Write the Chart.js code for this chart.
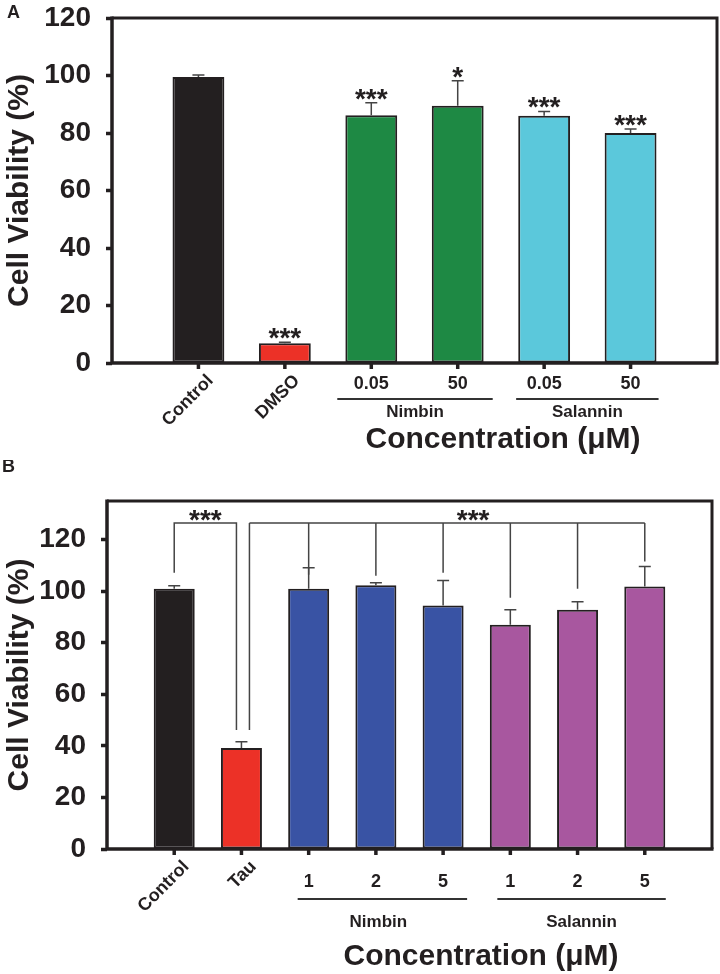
<!DOCTYPE html>
<html>
<head>
<meta charset="utf-8">
<title>Cell viability</title>
<script src="https://cdn.jsdelivr.net/npm/chart.js@4.4.1/dist/chart.umd.min.js"></script>
<style>
  body { margin: 0; background: #fff; }
  #wrap { position: relative; width: 720px; height: 974px; }
  #chartA { position: absolute; left: 0; top: 0; }
  #chartB { position: absolute; left: 0; top: 460px; }
</style>
</head>
<body>
<div id="wrap">
  <canvas id="chartA" width="720" height="460"></canvas>
  <canvas id="chartB" width="720" height="514"></canvas>
</div>
<script>
// Panel A data
const labelsA = ["Control", "DMSO", "0.05", "50", "0.05", "50"];
const valuesA = [99.5, 6.9, 86.2, 89.5, 86.0, 80.0];
const errorsA = [0.7, 0.3, 4.3, 8.7, 1.5, 1.4];
const starsA = ["", "***", "***", "*", "***", "***"];
const groupsA = [
  { name: "Nimbin", from: 2, to: 3 },
  { name: "Salannin", from: 4, to: 5 },
];

// Panel B data
const labelsB = ["Control", "Tau", "1", "2", "5", "1", "2", "5"];
const valuesB = [101.0, 39.2, 101.0, 102.3, 94.5, 87.0, 92.8, 101.8];
const errorsB = [1.1, 2.4, 8.1, 1.0, 9.7, 5.8, 3.1, 7.8];
const groupsB = [
  { name: "Nimbin", from: 2, to: 4 },
  { name: "Salannin", from: 5, to: 7 },
];
// significance brackets (y values in %)
const bracketLevel = 126.5;
const bracketCtrlTau = [107.2, 46.2];
const bracketTauAll = [46.2, 106.4, 106.0, 107.2, 97.5, 101.0, 111.5];

const INK = "#231f20";
const FONT = "'Liberation Sans', Arial, Helvetica, sans-serif";
const colorsA = ["#231f20", "#ec3127", "#1e8944", "#1e8944", "#5bc8db", "#5bc8db"];
const colorsB = ["#231f20", "#ec3127", "#3953a4", "#3953a4", "#3953a4", "#a8579f", "#a8579f", "#a8579f"];

// pad the category axis with an empty slot at each end
function padded(arr, fill) {
  return [fill, ...arr, fill];
}

// Draws the frame, error bars, x labels, groups and annotations
function decorPlugin(opts) {
  return {
    id: "decor",
    afterDatasetsDraw(chart) {
      const { ctx, chartArea: a, scales } = chart;
      const x = scales.x;
      const y = scales.y;
      const px = (i) => x.getPixelForValue(i + 1);
      ctx.save();

      // frame
      ctx.strokeStyle = INK;
      ctx.lineWidth = 3;
      ctx.beginPath();
      ctx.moveTo(a.left, a.top);
      ctx.lineTo(a.right, a.top);
      ctx.lineTo(a.right, a.bottom);
      ctx.stroke();
      ctx.lineWidth = 3.5;
      ctx.beginPath();
      ctx.moveTo(a.left, a.top - 1.5);
      ctx.lineTo(a.left, a.bottom);
      ctx.lineTo(a.right + 1.5, a.bottom);
      ctx.stroke();

      // x tick marks
      ctx.lineWidth = 3.5;
      opts.labels.forEach((_, i) => {
        ctx.beginPath();
        ctx.moveTo(px(i), a.bottom);
        ctx.lineTo(px(i), a.bottom + 6);
        ctx.stroke();
      });

      // error bars
      ctx.strokeStyle = "#444";
      ctx.lineWidth = 1.5;
      opts.values.forEach((v, i) => {
        const top = y.getPixelForValue(v);
        const cap = y.getPixelForValue(v + opts.errors[i]);
        ctx.beginPath();
        ctx.moveTo(px(i), top);
        ctx.lineTo(px(i), cap);
        ctx.moveTo(px(i) - 6, cap);
        ctx.lineTo(px(i) + 6, cap);
        ctx.stroke();
      });

      // stars above bars
      ctx.fillStyle = INK;
      if (opts.stars) {
        ctx.font = "bold 28px " + FONT;
        ctx.textAlign = "center";
        ctx.textBaseline = "alphabetic";
        opts.stars.forEach((s, i) => {
          if (!s) return;
          const cap = y.getPixelForValue(opts.values[i] + opts.errors[i]);
          ctx.fillText(s, px(i), cap + 5);
        });
      }

      // x labels: rotated names for the first two, numbers for grouped ones
      opts.labels.forEach((lab, i) => {
        if (i < 2) {
          ctx.save();
          ctx.translate(px(i) + 12, a.bottom + 15);
          ctx.rotate(-Math.PI / 4);
          ctx.font = "bold 18px " + FONT;
          ctx.textAlign = "right";
          ctx.textBaseline = "middle";
          ctx.fillText(lab, 0, 0);
          ctx.restore();
        } else {
          ctx.font = "bold 18px " + FONT;
          ctx.textAlign = "center";
          ctx.textBaseline = "middle";
          ctx.fillText(lab, px(i), a.bottom + opts.numDy);
        }
      });

      // group underlines and names
      opts.groups.forEach((g, k) => {
        const x0 = px(g.from) - opts.groupPad[k][0];
        const x1 = px(g.to) + opts.groupPad[k][1];
        ctx.strokeStyle = "#333";
        ctx.lineWidth = 2;
        ctx.beginPath();
        ctx.moveTo(x0, a.bottom + opts.lineDy);
        ctx.lineTo(x1, a.bottom + opts.lineDy);
        ctx.stroke();
        ctx.font = "bold 17px " + FONT;
        ctx.textAlign = "center";
        ctx.textBaseline = "middle";
        ctx.fillText(g.name, (x0 + x1) / 2 + opts.groupNameDx[k], a.bottom + opts.nameDy);
      });

      // axis title
      ctx.font = "bold 30px " + FONT;
      ctx.textAlign = "center";
      ctx.textBaseline = "middle";
      ctx.fillText("Concentration (\u03bcM)", opts.titleX, a.bottom + opts.titleDy);

      // panel letter
      ctx.font = "bold 18px " + FONT;
      ctx.textAlign = "left";
      ctx.textBaseline = "top";
      ctx.fillText(opts.letter, opts.letterPos[0], opts.letterPos[1]);

      if (opts.brackets) opts.brackets(ctx, px, y);
      ctx.restore();
    },
  };
}

function yScale(max, width) {
  return {
    min: 0,
    max: max,
    ticks: {
      stepSize: 20,
      includeBounds: false,
      color: INK,
      padding: 15,
      font: { family: FONT, size: 28, weight: "bold" },
    },
    grid: {
      display: true,
      drawOnChartArea: false,
      drawTicks: true,
      tickLength: 6,
      tickWidth: 3.5,
      tickColor: INK,
    },
    border: { display: false },
    title: {
      display: true,
      text: "Cell Viability (%)",
      color: INK,
      padding: { top: 2, bottom: 0 },
      font: { family: FONT, size: 30, weight: "bold" },
    },
    afterFit(scale) {
      scale.width = width;
      scale.paddingTop = 0;
      scale.paddingBottom = 0;
    },
  };
}

function barChart(id, labels, values, colors, barPct, yMax, yWidth, padding, plugin) {
  return new Chart(document.getElementById(id), {
    type: "bar",
    data: {
      labels: padded(labels, ""),
      datasets: [
        {
          data: padded(values, null),
          backgroundColor: padded(colors, "#fff"),
          borderColor: INK,
          borderWidth: 2,
          borderSkipped: false,
          barPercentage: barPct,
          categoryPercentage: 1,
        },
      ],
    },
    options: {
      responsive: false,
      animation: false,
      layout: { padding: padding },
      plugins: { legend: { display: false }, tooltip: { enabled: false } },
      scales: {
        x: { display: false, offset: false },
        y: yScale(yMax, yWidth),
      },
    },
    plugins: [plugin],
  });
}

barChart("chartA", labelsA, valuesA, colorsA, 0.6, 120, 112,
  { top: 18, right: 3, bottom: 97, left: 0 },
  decorPlugin({
    labels: labelsA, values: valuesA, errors: errorsA, stars: starsA,
    groups: groupsA, groupPad: [[34, 35], [28, 28]], groupNameDx: [0, 0],
    numDy: 21, lineDy: 36, nameDy: 49, titleX: 503, titleDy: 77,
    letter: "A", letterPos: [7, 4],
  }));

barChart("chartB", labelsB, valuesB, colorsB, 0.61, 135, 107,
  { top: 41, right: 8, bottom: 125, left: 0 },
  decorPlugin({
    labels: labelsB, values: valuesB, errors: errorsB, stars: null,
    groups: groupsB, groupPad: [[11, 24], [13, 21]], groupNameDx: [-4, 0],
    numDy: 33, lineDy: 50, nameDy: 73, titleX: 481, titleDy: 108,
    letter: "B", letterPos: [2, -2],
    brackets(ctx, px, y) {
      const top = y.getPixelForValue(bracketLevel);
      ctx.strokeStyle = "#444";
      ctx.lineWidth = 1.5;
      // Control vs Tau
      const l0 = px(0), r0 = px(1) - 5;
      ctx.beginPath();
      ctx.moveTo(l0, y.getPixelForValue(bracketCtrlTau[0]));
      ctx.lineTo(l0, top);
      ctx.lineTo(r0, top);
      ctx.lineTo(r0, y.getPixelForValue(bracketCtrlTau[1]));
      ctx.stroke();
      // Tau vs treatments
      const xs = bracketTauAll.map((_, k) => (k === 0 ? px(1) + 8 : px(k + 1)));
      ctx.beginPath();
      ctx.moveTo(xs[0], top);
      ctx.lineTo(xs[xs.length - 1], top);
      xs.forEach((xx, k) => {
        ctx.moveTo(xx, top);
        ctx.lineTo(xx, y.getPixelForValue(bracketTauAll[k]));
      });
      ctx.stroke();
      ctx.fillStyle = INK;
      ctx.font = "bold 28px " + FONT;
      ctx.textAlign = "center";
      ctx.textBaseline = "alphabetic";
      ctx.fillText("***", (l0 + r0) / 2, top + 6);
      ctx.fillText("***", (xs[0] + xs[xs.length - 1]) / 2 + 26, top + 6);
    },
  }));
</script>
</body>
</html>
